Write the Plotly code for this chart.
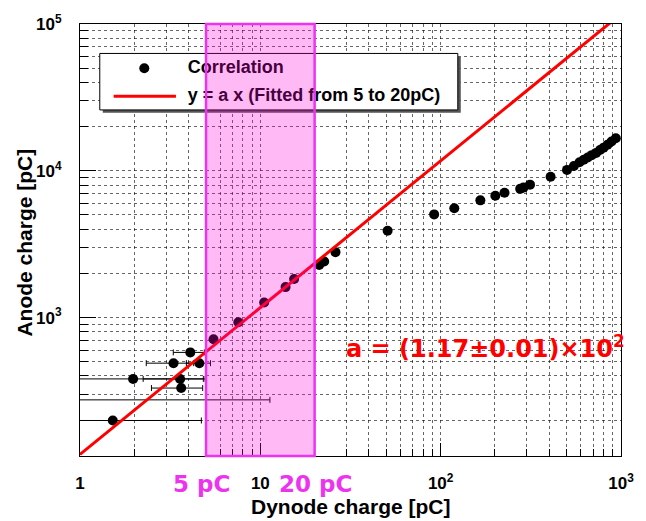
import math
import plotly.graph_objects as go

# ---------------- data ----------------
dynode_pc = [1.52, 1.97, 3.30, 3.59, 3.64, 4.09, 4.59, 0.80,
             5.50, 7.55, 10.5, 13.8, 15.4, 21.2, 22.6, 26.1,
             50.8, 92.0, 119, 166, 201, 226, 276, 288, 313, 407,
             502, 548, 589, 622, 654, 688, 728, 765, 801, 842, 886, 936]
anode_pc = [199, 382, 489, 382, 331, 579, 489, 275,
            712, 930, 1266, 1613, 1832, 2285, 2407, 2791,
            3899, 5044, 5557, 6287, 6761, 7080, 7530, 7680, 8045, 9104,
            10140, 10780, 11420, 11885, 12330, 12780, 13240, 13860, 14380, 15060, 15850, 16680]
dynode_err_plus = [3.19, 2.86, 0.97, 1.35, 1.15, 0.80, 0.70, 10.5] + [0] * 30
dynode_err_minus = [1.00, 1.50, 0.97, 1.35, 1.15, 0.80, 0.70, 0.30] + [0] * 30

fit_slope = 117.0          # a = (1.17 +- 0.01) x 10^2
fit_range = [5, 20]        # fitted from 5 to 20 pC
line_x = [1, 1000]

x_range = [1, 1000]
y_range = [114, 100000]

x_tickvals = [1, 10, 100, 1000]
x_ticktext = ["1", "10", "10<sup>2</sup>", "10<sup>3</sup>"]
y_tickvals = [1000, 10000, 100000]
y_ticktext = ["10<sup>3</sup>", "10<sup>4</sup>", "10<sup>5</sup>"]
x_minor = [m * d for d in (1, 10, 100) for m in range(2, 10)]
y_minor = [m * d for d in (100, 1000, 10000) for m in range(2, 10)]

legend_labels = ["Correlation", "y = a x (Fitted from 5 to 20pC)"]
fit_label = "a = (1.17\u00b10.01)\u00d710<sup>2</sup>"

FONT = "Liberation Sans, Arial, Helvetica, sans-serif"
FONT2 = "DejaVu Sans, sans-serif"
MAGENTA = "#EE33EE"
GRID = "rgba(0,0,0,0.6)"

# plot frame in pixels (from margins)
L, R, T, B = 80, 19, 16, 65
W, H = 646 - L - R, 521 - T - B
XL0, XL1 = math.log10(x_range[0]), math.log10(x_range[1])
YL0, YL1 = math.log10(y_range[0]), math.log10(y_range[1])

def fx(frac):   # fraction of frame width -> x data value (log axis)
    return 10 ** (XL0 + frac * (XL1 - XL0))

def fy(frac):   # fraction of frame height -> y data value (log axis)
    return 10 ** (YL0 + frac * (YL1 - YL0))

def px(xp):
    return (xp - L) / W

def py(yp):
    return (T + H - yp) / H

fig = go.Figure()

# data points with x error bars
fig.add_trace(go.Scatter(
    x=dynode_pc, y=anode_pc, mode="markers",
    marker=dict(color="black", size=10),
    error_x=dict(type="data", symmetric=False, array=dynode_err_plus,
                 arrayminus=dynode_err_minus, color="black", thickness=1, width=3),
    showlegend=False, hoverinfo="skip"))

# fit line y = a x
fig.add_trace(go.Scatter(
    x=line_x, y=[fit_slope * v for v in line_x], mode="lines",
    line=dict(color="#FF0000", width=3), showlegend=False, hoverinfo="skip"))

# ---------- hand-made legend ----------
def box(x0, x1, y0, y1):
    xs = [fx(x0), fx(x1), fx(x1), fx(x0), fx(x0)]
    ys = [fy(y0), fy(y0), fy(y1), fy(y1), fy(y0)]
    return xs, ys

sx, sy = box(px(103), px(465), py(106.5), py(49))
fig.add_trace(go.Scatter(x=sx, y=sy, mode="lines", fill="toself", fillcolor="#555555",
                         line=dict(color="#555555", width=0),
                         showlegend=False, hoverinfo="skip"))
bx, by = box(px(100), px(462), py(103.5), py(46))
fig.add_trace(go.Scatter(x=bx, y=by, mode="lines", fill="toself", fillcolor="white",
                         line=dict(color="black", width=1),
                         showlegend=False, hoverinfo="skip"))
fig.add_trace(go.Scatter(x=[fx(px(145))], y=[fy(py(61))], mode="markers",
                         marker=dict(color="black", size=10),
                         showlegend=False, hoverinfo="skip"))
fig.add_trace(go.Scatter(x=[fx(px(114)), fx(px(177))], y=[fy(py(89.5))] * 2,
                         mode="lines", line=dict(color="#FF0000", width=3),
                         showlegend=False, hoverinfo="skip"))
fig.add_trace(go.Scatter(x=[fx(px(189))] * 2, y=[fy(py(61)), fy(py(89.5))],
                         mode="text", text=legend_labels, textposition="middle right",
                         textfont=dict(family=FONT, size=18, color="black", weight="bold"),
                         showlegend=False, hoverinfo="skip"))

axis_common = dict(
    type="log", showline=True, mirror=True, linecolor="black", linewidth=1,
    ticks="inside", tickcolor="black", tickwidth=1,
    showgrid=True, gridcolor=GRID, griddash="dot", gridwidth=1,
    zeroline=False,
    tickfont=dict(family=FONT, size=17, color="black", weight="bold"),
)

fig.update_layout(
    width=646, height=521, autosize=False,
    margin=dict(l=L, r=R, t=T, b=B, pad=0),
    paper_bgcolor="white", plot_bgcolor="white",
    xaxis=dict(axis_common, range=[XL0, XL1], tickmode="array", tickvals=x_tickvals,
               ticktext=x_ticktext, ticklen=13, ticklabelstandoff=12,
               minor=dict(tickmode="array", tickvals=x_minor, ticks="inside", ticklen=7,
                          tickcolor="black", showgrid=True, gridcolor=GRID,
                          griddash="dot", gridwidth=1)),
    yaxis=dict(axis_common, range=[YL0, YL1], tickmode="array",
               tickvals=y_tickvals, ticktext=y_ticktext, ticklen=16, ticklabelstandoff=14,
               minor=dict(tickmode="array", tickvals=y_minor, ticks="inside", ticklen=8,
                          tickcolor="black", showgrid=True, gridcolor=GRID,
                          griddash="dot", gridwidth=1)),
    # fit-range band over everything inside the frame (points, line, legend)
    shapes=[dict(type="rect", xref="x", yref="paper", x0=fit_range[0], x1=fit_range[1],
                 y0=0, y1=1, layer="above", fillcolor="rgba(255,0,220,0.27)",
                 line=dict(color=MAGENTA, width=2.5))],
    annotations=[
        dict(text="5 pC", xref="x", yref="paper", x=math.log10(fit_range[0]), y=0,
             xanchor="center", yanchor="middle", yshift=-28, xshift=-5, showarrow=False,
             font=dict(family=FONT2, size=23, color=MAGENTA, weight="bold")),
        dict(text="20 pC", xref="x", yref="paper", x=math.log10(fit_range[1]), y=0,
             xanchor="center", yanchor="middle", yshift=-28, xshift=1, showarrow=False,
             font=dict(family=FONT2, size=23, color=MAGENTA, weight="bold")),
        dict(text="Dynode charge [pC]", xref="paper", yref="paper", x=0.5, y=0,
             xanchor="center", yanchor="middle", yshift=-50, showarrow=False,
             font=dict(family=FONT, size=21, color="black", weight="bold")),
        dict(text="Anode charge [pC]", xref="paper", yref="paper", x=px(24), y=py(239),
             xanchor="center", yanchor="middle", textangle=-90, showarrow=False,
             font=dict(family=FONT, size=21, color="black", weight="bold")),
        dict(text=fit_label, xref="paper", yref="paper", x=px(347), y=py(345),
             xanchor="left", yanchor="middle", showarrow=False,
             font=dict(family=FONT2, size=24, color="#FF0000", weight="bold")),
    ],
)

fig.write_html("out.html")
